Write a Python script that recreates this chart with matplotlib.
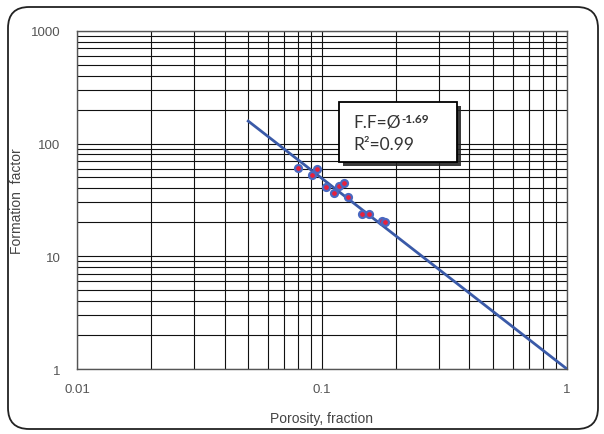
import numpy as np
import matplotlib
matplotlib.use("Agg")
import matplotlib.pyplot as plt
from matplotlib.patches import FancyBboxPatch, Rectangle
from matplotlib.text import Annotation

# Datos
porosity = [0.080, 0.091, 0.0955, 0.104, 0.112, 0.117, 0.1225, 0.128, 0.146, 0.155, 0.175, 0.181]
formation_factor = [60.7, 52.9, 59.0, 41.4, 36.6, 42.3, 44.7, 33.5, 23.9, 23.6, 20.5, 20.1]
exponent = -1.69
fit_range = [0.05, 1.0]
x_ticks = [0.01, 0.1, 1]
x_ticklabels = ["0.01", "0.1", "1"]
y_ticks = [1, 10, 100, 1000]
y_ticklabels = ["1", "10", "100", "1000"]

plt.rcParams['font.family'] = ['Liberation Sans', 'DejaVu Sans']

fig = plt.figure(figsize=(6.04, 4.35), dpi=100)
ax = fig.add_axes([0.1275, 0.1494, 0.8112, 0.7776])

# Marco redondeado de la figura
frame = FancyBboxPatch((8/604, 5/435), 590/604, 422/435, transform=fig.transFigure,
                       boxstyle="round,pad=0,rounding_size=0.035", fill=False,
                       edgecolor='#222222', linewidth=1.3, mutation_aspect=604/435)
fig.patches.append(frame)

ax.set_xscale('log')
ax.set_yscale('log')
ax.set_xlim(0.01, 1)
ax.set_ylim(1, 1000)

ax.grid(True, which='both', color='#111111', linewidth=0.8)
ax.set_axisbelow(True)
for s in ax.spines.values():
    s.set_color('#555555')
    s.set_linewidth(1.0)

ax.set_xticks(x_ticks)
ax.set_xticklabels(x_ticklabels)
ax.set_yticks(y_ticks)
ax.set_yticklabels(y_ticklabels)
ax.tick_params(which='both', length=0, labelsize=9.5, labelcolor='#555555')
ax.tick_params(axis='x', pad=10)
ax.tick_params(axis='y', pad=12)

ax.set_xlabel("Porosity, fraction", fontsize=10, color='#444444')
ax.set_ylabel("Formation  factor", fontsize=10, color='#444444')
ax.xaxis.set_label_coords(0.5, -0.125)
ax.yaxis.set_label_coords(-0.108, 0.5)

# Linea de ajuste
xf = np.array(fit_range)
ax.plot(xf, xf ** exponent, color='#3a5aa8', linewidth=2.0, zorder=3)

# Puntos
ax.plot(porosity, formation_factor, 'o', markersize=5, markerfacecolor='#e8203c',
        markeredgecolor='#4a68c0', markeredgewidth=1.6, zorder=4)

# Caja de texto con sombra
bx, by, bw, bh = 339/604, 1 - 163/435, 118/604, 60/435
for a in [0.25, 0.45, 0.7]:
    fig.patches.append(Rectangle((bx + 4/604, by - 4/435), bw, bh, transform=fig.transFigure,
                                 facecolor='#222222', alpha=a, edgecolor='none',
                                 linewidth=0, zorder=5))
fig.patches.append(Rectangle((bx, by), bw, bh, transform=fig.transFigure,
                             facecolor='white', edgecolor='black', linewidth=1.3, zorder=6))
box_font = ['Lato', 'DejaVu Sans']
t1 = fig.text(353/604, 1 - 128/435, "F.F=Ø", fontsize=12.5,
              family=box_font, color='#333333', zorder=7)
sup = Annotation("-1.69", xy=(1, 1), xycoords=t1, xytext=(0.5, 1), textcoords='offset points',
                 va='top', fontsize=8.5, fontweight='bold', family=box_font,
                 color='#333333', annotation_clip=False)
sup.set_zorder(7)
fig.add_artist(sup)
fig.text(353/604, 1 - 150/435, "R²=0.99", fontsize=12.5,
         family=box_font, color='#333333', zorder=7)

fig.savefig("out.png", dpi=100)
